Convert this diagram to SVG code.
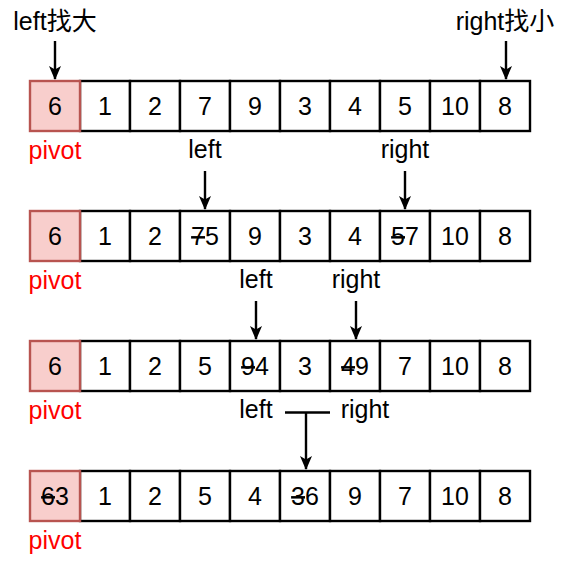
<svg xmlns="http://www.w3.org/2000/svg" width="572" height="562" viewBox="0 0 572 562">
<defs>
<style>
.c{fill:#fff;stroke:#000;stroke-width:2.4}
.p{fill:#f8cecc;stroke:#b85450;stroke-width:2.4}
text{font-family:"Liberation Sans","Noto Sans CJK SC",sans-serif;font-size:25px;text-anchor:middle;fill:#000}
.r{fill:#ff0000}
.s{text-decoration:line-through}
.a{stroke:#000;stroke-width:2.4;fill:none}
</style>
<marker id="ah" markerUnits="userSpaceOnUse" markerWidth="14" markerHeight="14" viewBox="0 0 14 14" refX="13" refY="7" orient="auto">
<path d="M0,1 L14,7 L0,13 L3.5,7 z" fill="#000"/>
</marker>
</defs>
<rect width="572" height="562" fill="#fff"/>
<g id="connectors">
<path class="a" d="M55,41 V79" marker-end="url(#ah)"/>
<path class="a" d="M506,41 V79" marker-end="url(#ah)"/>
<path class="a" d="M205,171 V209" marker-end="url(#ah)"/>
<path class="a" d="M405,171 V209" marker-end="url(#ah)"/>
<path class="a" d="M256,301 V339" marker-end="url(#ah)"/>
<path class="a" d="M356,301 V339" marker-end="url(#ah)"/>
<path class="a" d="M285,412.5 H330"/>
<path class="a" d="M306,412.5 V469" marker-end="url(#ah)"/>
</g>
<g id="labels">
<text x="55" y="30">left找大</text>
<text x="505" y="30">right找小</text>
<text x="205" y="158">left</text>
<text x="405" y="158">right</text>
<text x="256" y="288">left</text>
<text x="356" y="288">right</text>
<text x="256" y="418">left</text>
<text x="365" y="418">right</text>
</g>
<g id="row1">
<rect class="c" x="80" y="81" width="50" height="50"/><rect class="c" x="130" y="81" width="50" height="50"/><rect class="c" x="180" y="81" width="50" height="50"/><rect class="c" x="230" y="81" width="50" height="50"/><rect class="c" x="280" y="81" width="50" height="50"/><rect class="c" x="330" y="81" width="50" height="50"/><rect class="c" x="380" y="81" width="50" height="50"/><rect class="c" x="430" y="81" width="50" height="50"/><rect class="c" x="480" y="81" width="50" height="50"/>
<rect class="p" x="30" y="81" width="50" height="50"/>
<text x="55" y="115">6</text><text x="105" y="115">1</text><text x="155" y="115">2</text><text x="205" y="115">7</text><text x="255" y="115">9</text><text x="305" y="115">3</text><text x="355" y="115">4</text><text x="405" y="115">5</text><text x="455" y="115">10</text><text x="505" y="115">8</text>
<text class="r" x="55" y="159">pivot</text>
</g>
<g id="row2">
<rect class="c" x="80" y="211" width="50" height="50"/><rect class="c" x="130" y="211" width="50" height="50"/><rect class="c" x="180" y="211" width="50" height="50"/><rect class="c" x="230" y="211" width="50" height="50"/><rect class="c" x="280" y="211" width="50" height="50"/><rect class="c" x="330" y="211" width="50" height="50"/><rect class="c" x="380" y="211" width="50" height="50"/><rect class="c" x="430" y="211" width="50" height="50"/><rect class="c" x="480" y="211" width="50" height="50"/>
<rect class="p" x="30" y="211" width="50" height="50"/>
<text x="55" y="245">6</text><text x="105" y="245">1</text><text x="155" y="245">2</text><text x="205" y="245"><tspan class="s">7</tspan>5</text><text x="255" y="245">9</text><text x="305" y="245">3</text><text x="355" y="245">4</text><text x="405" y="245"><tspan class="s">5</tspan>7</text><text x="455" y="245">10</text><text x="505" y="245">8</text>
<text class="r" x="55" y="289">pivot</text>
</g>
<g id="row3">
<rect class="c" x="80" y="341" width="50" height="50"/><rect class="c" x="130" y="341" width="50" height="50"/><rect class="c" x="180" y="341" width="50" height="50"/><rect class="c" x="230" y="341" width="50" height="50"/><rect class="c" x="280" y="341" width="50" height="50"/><rect class="c" x="330" y="341" width="50" height="50"/><rect class="c" x="380" y="341" width="50" height="50"/><rect class="c" x="430" y="341" width="50" height="50"/><rect class="c" x="480" y="341" width="50" height="50"/>
<rect class="p" x="30" y="341" width="50" height="50"/>
<text x="55" y="375">6</text><text x="105" y="375">1</text><text x="155" y="375">2</text><text x="205" y="375">5</text><text x="255" y="375"><tspan class="s">9</tspan>4</text><text x="305" y="375">3</text><text x="355" y="375"><tspan class="s">4</tspan>9</text><text x="405" y="375">7</text><text x="455" y="375">10</text><text x="505" y="375">8</text>
<text class="r" x="55" y="419">pivot</text>
</g>
<g id="row4">
<rect class="c" x="80" y="471" width="50" height="50"/><rect class="c" x="130" y="471" width="50" height="50"/><rect class="c" x="180" y="471" width="50" height="50"/><rect class="c" x="230" y="471" width="50" height="50"/><rect class="c" x="280" y="471" width="50" height="50"/><rect class="c" x="330" y="471" width="50" height="50"/><rect class="c" x="380" y="471" width="50" height="50"/><rect class="c" x="430" y="471" width="50" height="50"/><rect class="c" x="480" y="471" width="50" height="50"/>
<rect class="p" x="30" y="471" width="50" height="50"/>
<text x="55" y="505"><tspan class="s">6</tspan>3</text><text x="105" y="505">1</text><text x="155" y="505">2</text><text x="205" y="505">5</text><text x="255" y="505">4</text><text x="305" y="505"><tspan class="s">3</tspan>6</text><text x="355" y="505">9</text><text x="405" y="505">7</text><text x="455" y="505">10</text><text x="505" y="505">8</text>
<text class="r" x="55" y="549">pivot</text>
</g>
</svg>
